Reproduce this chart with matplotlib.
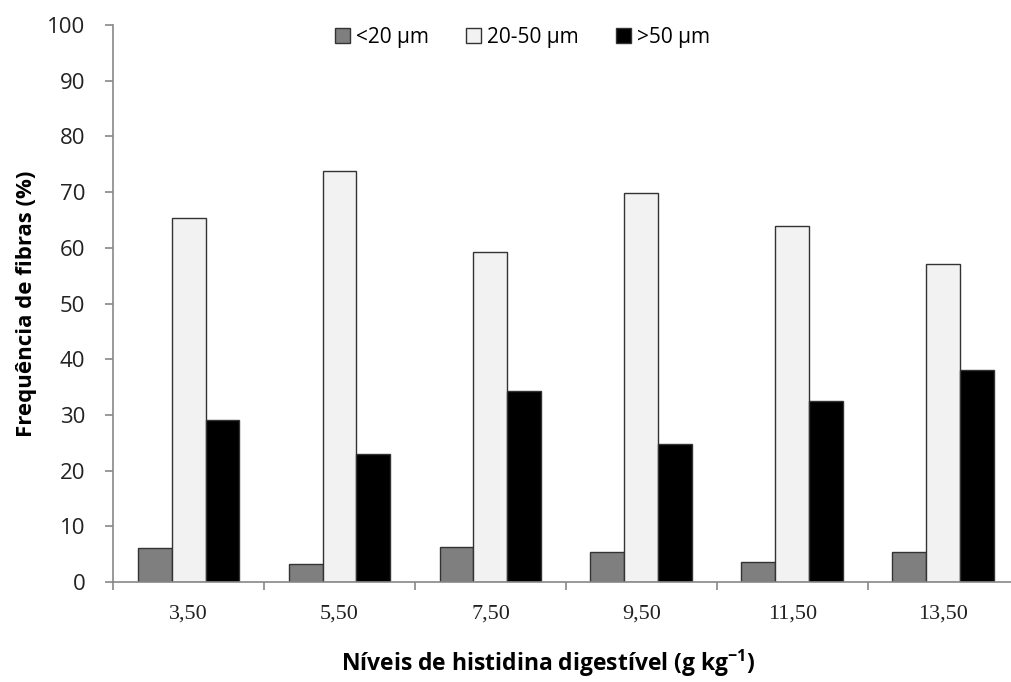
import matplotlib.pyplot as plt
import numpy as np

# niveis de histidina digestivel
niveis = ["3,50", "5,50", "7,50", "9,50", "11,50", "13,50"]
menor20 = [6.1, 3.2, 6.3, 5.4, 3.6, 5.4]
entre20_50 = [65.4, 73.8, 59.2, 69.8, 63.9, 57.1]
maior50 = [29.1, 23.0, 34.3, 24.8, 32.5, 38.1]
legendas = ["<20 µm", "20-50 µm", ">50 µm"]

sans = ["Open Sans", "DejaVu Sans"]

fig = plt.figure(figsize=(10.11, 6.82), dpi=100)
ax = fig.add_axes([0.1118, 0.1466, 0.896, 0.8167])

x = np.arange(len(niveis))
w = 0.225
ax.bar(x - w, menor20, w, color="#7f7f7f", edgecolor="#333333", linewidth=1, label=legendas[0])
ax.bar(x, entre20_50, w, color="#f2f2f2", edgecolor="#333333", linewidth=1, label=legendas[1])
ax.bar(x + w, maior50, w, color="#000000", edgecolor="#333333", linewidth=1, label=legendas[2])

ax.set_xlim(-0.5, len(niveis) - 0.5)
ax.set_ylim(0, 100)
ax.set_yticks(np.arange(0, 101, 10))
ax.set_yticklabels([str(v) for v in range(0, 101, 10)], family=sans, fontsize=16, color="#222222")

ax.set_xticks(x)
ax.set_xticklabels(niveis, family="Liberation Serif", fontsize=16, color="#222222")
ax.set_xticks(np.arange(-0.5, len(niveis), 1.0), minor=True)
ax.tick_params(axis="x", which="major", length=0, pad=16)
ax.tick_params(axis="x", which="minor", length=6, color="#888888", width=1.2)
ax.tick_params(axis="y", length=6, color="#888888", width=1.2, pad=14)

for s in ["top", "right"]:
    ax.spines[s].set_visible(False)
for s in ["left", "bottom"]:
    ax.spines[s].set_color("#888888")
    ax.spines[s].set_linewidth(1.2)

ax.set_ylabel("Frequência de fibras (%)", family=sans, fontsize=16, fontweight="bold")
ax.yaxis.set_label_coords(-0.084, 0.5)
ax.set_xlabel("Níveis de histidina digestível (g kg$^{\\mathregular{-1}}$)", family=sans,
              fontsize=16.5, fontweight="bold")
ax.xaxis.set_label_coords(0.48, -0.118)

ax.legend(loc="upper center", bbox_to_anchor=(0.452, 1.03), ncol=3, frameon=False,
          prop={"family": sans, "size": 15}, handlelength=0.7, handleheight=0.7,
          columnspacing=1.8, handletextpad=0.3)

fig.savefig("out.png", dpi=100)
